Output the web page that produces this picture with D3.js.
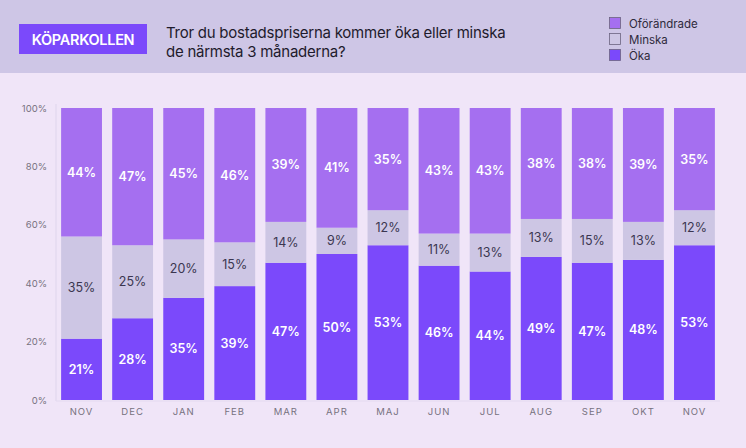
<!DOCTYPE html>
<html><head><meta charset="utf-8">
<script src="https://cdn.jsdelivr.net/npm/d3@7"></script>
<style>
html,body{margin:0;padding:0;background:#f0e5f8;}
svg{display:block;font-family:Inter,"Open Sans",sans-serif;}
</style></head>
<body><svg id="c" width="746" height="448"></svg>
<script>
const months = ["NOV","DEC","JAN","FEB","MAR","APR","MAJ","JUN","JUL","AUG","SEP","OKT","NOV"];
const oka = [21,28,35,39,47,50,53,46,44,49,47,48,53];
const minska = [35,25,20,15,14,9,12,11,13,13,15,13,12];
const oforandrade = [44,47,45,46,39,41,35,43,43,38,38,39,35];
const yTicks = [0,20,40,60,80,100];
const seriesNames = ["Öka","Minska","Oförändrade"];
const legendNames = ["Oförändrade","Minska","Öka"];
const colors = {"Öka":"#7b49fb","Minska":"#cdc6e4","Oförändrade":"#a56ff0"};
const labelColors = {"Öka":"#ffffff","Minska":"#3b3650","Oförändrade":"#ffffff"};

const svg = d3.select("#c");
svg.append("rect").attr("x",0).attr("y",0).attr("width",746).attr("height",448).attr("fill","#f0e5f8");
svg.append("rect").attr("x",0).attr("y",0).attr("width",746).attr("height",73).attr("fill","#cec6e6");
svg.append("rect").attr("x",19).attr("y",24).attr("width",128).attr("height",30).attr("fill","#7b49fb");
svg.append("text").attr("x",83).attr("y",44.5).attr("text-anchor","middle").attr("fill","#fff")
  .attr("font-size",14.5).attr("font-weight",600).attr("letter-spacing",-0.3).text("KÖPARKOLLEN");
svg.append("text").attr("x",166).attr("y",38).attr("fill","#1e1b2c").attr("font-size",15).attr("letter-spacing",-0.25)
  .text("Tror du bostadspriserna kommer öka eller minska");
svg.append("text").attr("x",166).attr("y",57).attr("fill","#1e1b2c").attr("font-size",15).attr("letter-spacing",-0.25)
  .text("de närmsta 3 månaderna?");

const lg = svg.append("g");
legendNames.forEach((n,i)=>{
  lg.append("rect").attr("x",609.5).attr("y",17.5+i*16).attr("width",11).attr("height",11)
    .attr("fill",colors[n]).attr("stroke","#6b6480").attr("stroke-width",0.8);
  lg.append("text").attr("x",629).attr("y",27.5+i*16).attr("font-size",11.5).attr("fill","#2e2a3c").text(n);
});

const data = months.map((m,i)=>({i, m, "Öka":oka[i], "Minska":minska[i], "Oförändrade":oforandrade[i]}));
const stack = d3.stack().keys(seriesNames)(data);

const x = d3.scaleBand().domain(d3.range(months.length)).range([56,720]).paddingInner(0.2).paddingOuter(0.1);
const y = d3.scaleLinear().domain([0,100]).range([400,108]);

// axis lines
svg.append("line").attr("x1",56).attr("x2",56).attr("y1",104).attr("y2",401).attr("stroke","#e4daf0").attr("stroke-width",1.5);
svg.append("line").attr("x1",56).attr("x2",720).attr("y1",401).attr("y2",401).attr("stroke","#e4daf0").attr("stroke-width",1);

const yAxis = svg.append("g").attr("transform","translate(47,0)")
  .call(d3.axisLeft(y).tickValues(yTicks).tickSize(0).tickFormat(d=>d+"%"));
yAxis.select(".domain").remove();
yAxis.selectAll("text").attr("fill","#77727f").attr("font-size",9.5).attr("font-family","Inter,sans-serif").attr("x",0);

const xAxis = svg.append("g").attr("transform","translate(0,405)")
  .call(d3.axisBottom(x).tickSize(0).tickFormat(i=>months[i]));
xAxis.select(".domain").remove();
xAxis.selectAll("text").attr("fill","#77727f").attr("font-size",9.5).attr("letter-spacing",1).attr("font-family","Inter,sans-serif");

stack.forEach(s=>{
  const g = svg.append("g");
  g.selectAll("rect").data(s).join("rect")
    .attr("x",d=>x(d.data.i)).attr("width",x.bandwidth())
    .attr("y",d=>y(d[1])).attr("height",d=>y(d[0])-y(d[1]))
    .attr("fill",colors[s.key]);
  g.selectAll("text").data(s).join("text")
    .attr("x",d=>x(d.data.i)+x.bandwidth()/2).attr("y",d=>(y(d[0])+y(d[1]))/2+4.5)
    .attr("text-anchor","middle").attr("font-size",12.5).attr("font-weight",s.key==="Minska"?400:600)
    .attr("fill",labelColors[s.key]).text(d=>d.data[s.key]+"%");
});
</script></body></html>
